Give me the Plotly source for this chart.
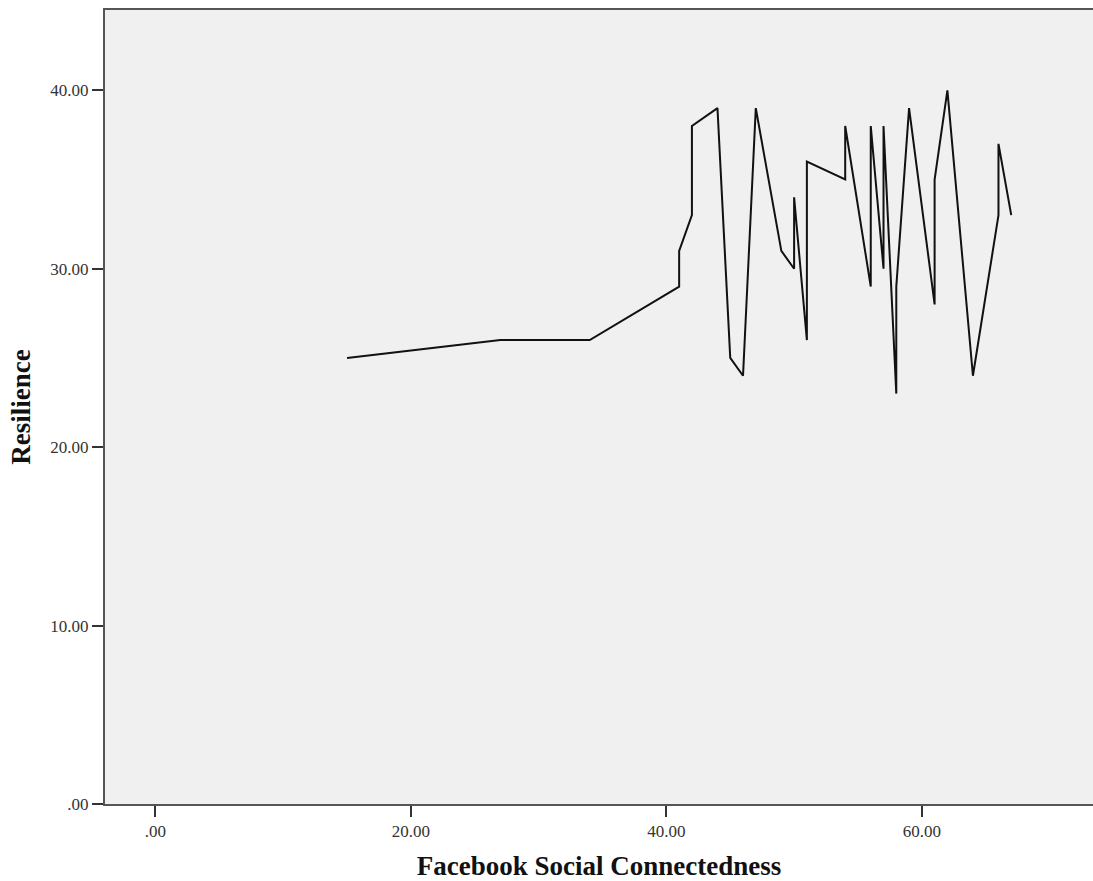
import plotly.graph_objects as go

# Data
fsc = [15, 27, 34, 41, 41, 42, 42, 44, 45, 46, 47, 49, 50, 50, 51, 51, 54, 54,
       56, 56, 57, 57, 58, 58, 59, 61, 61, 62, 64, 66, 66, 67]
resilience = [25, 26, 26, 29, 31, 33, 38, 39, 25, 24, 39, 31, 30, 34, 26, 36, 35, 38,
              29, 38, 30, 38, 23, 29, 39, 28, 35, 40, 24, 33, 37, 33]

x_tick_vals = [0, 20, 40, 60]
x_tick_text = [".00", "20.00", "40.00", "60.00"]
y_tick_vals = [0, 10, 20, 30, 40]
y_tick_text = [".00", "10.00", "20.00", "30.00", "40.00"]

fig = go.Figure()
fig.add_trace(go.Scatter(
    x=fsc, y=resilience, mode="lines",
    line=dict(color="#111111", width=2),
    showlegend=False, hoverinfo="x+y",
))

axis_font = dict(family="Liberation Serif, Times New Roman, serif", size=17, color="#333333")
title_font = dict(family="Liberation Serif, Times New Roman, serif", size=27, color="#111111")

fig.update_layout(
    width=1093, height=881,
    margin=dict(l=105, r=0, t=10, b=77),
    paper_bgcolor="white",
    plot_bgcolor="#F0F0F0",
    xaxis=dict(
        range=[-3.95, 73.4],
        tickvals=x_tick_vals, ticktext=x_tick_text,
        ticks="outside", ticklen=11, tickwidth=2, tickcolor="#333333",
        showline=True, linecolor="#555555", linewidth=2, mirror=True,
        showgrid=False, zeroline=False, automargin=False,
        tickfont=axis_font,
        title=dict(text="<b>Facebook Social Connectedness</b>", font=title_font, standoff=17),
    ),
    yaxis=dict(
        range=[0, 44.5],
        tickvals=y_tick_vals, ticktext=y_tick_text,
        ticks="outside", ticklen=11, tickwidth=2, tickcolor="#333333",
        showline=True, linecolor="#555555", linewidth=2, mirror=False,
        showgrid=False, zeroline=False, automargin=False,
        tickfont=axis_font,
        title=dict(text="<b>Resilience</b>", font=title_font, standoff=12),
    ),
)

fig.write_html("out.html")
